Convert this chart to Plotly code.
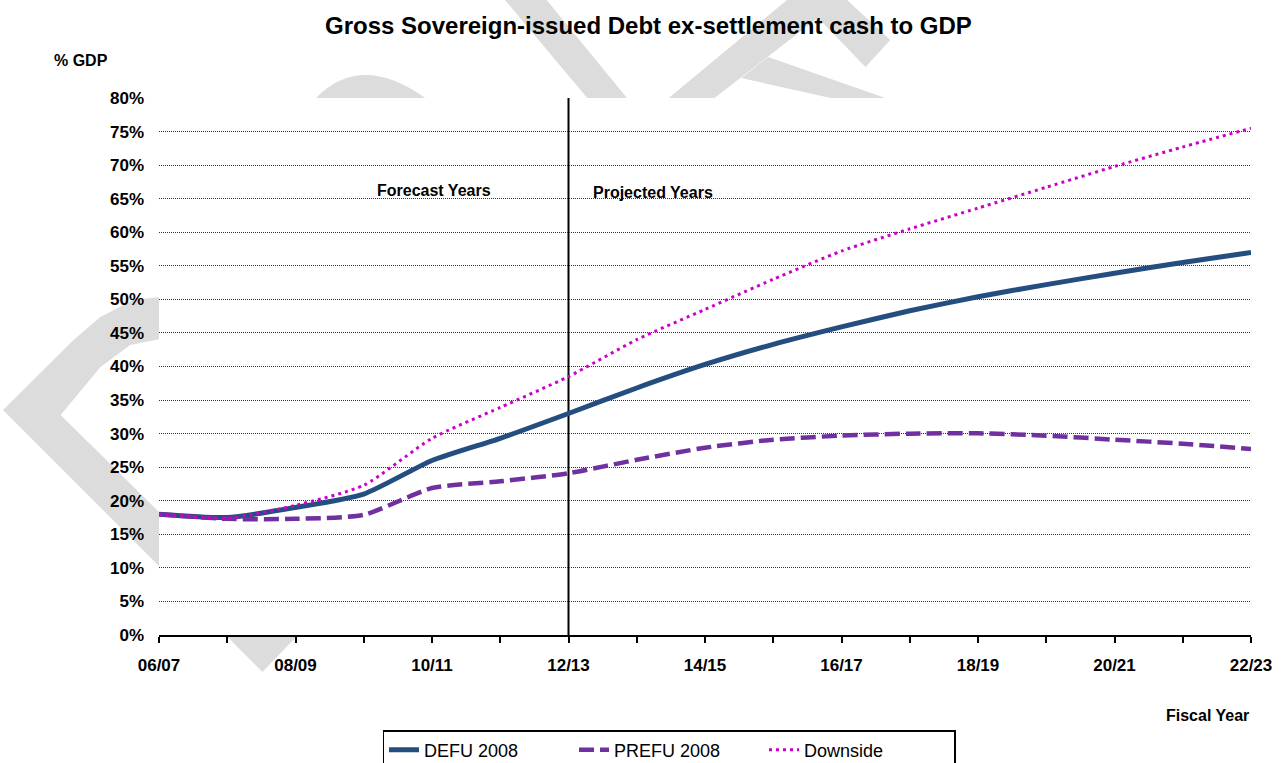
import plotly.graph_objects as go

# ---------------- data ----------------
years = ["06/07", "07/08", "08/09", "09/10", "10/11", "11/12", "12/13", "13/14", "14/15",
         "15/16", "16/17", "17/18", "18/19", "19/20", "20/21", "21/22", "22/23"]
tick_text = [y if i % 2 == 0 else "" for i, y in enumerate(years)]

defu_2008 = [18.0, 17.5, 19.0, 21.0, 26.0, 29.3, 33.0, 36.8, 40.3, 43.3, 45.9, 48.3, 50.4, 52.2, 53.9, 55.5, 57.0]
prefu_2008 = [18.0, 17.3, 17.3, 17.9, 21.9, 22.9, 24.1, 26.1, 27.9, 29.1, 29.7, 30.0, 30.05, 29.7, 29.1, 28.5, 27.7]
downside = [18.0, 17.4, 19.3, 22.3, 29.3, 33.9, 38.5, 44.0, 48.5, 53.0, 57.2, 60.5, 63.6, 66.7, 69.8, 72.7, 75.5]

series_names = ["DEFU 2008", "PREFU 2008", "Downside"]
y_ticks = list(range(0, 81, 5))
y_tick_labels = [f"{v}%" for v in y_ticks]
split_year = "12/13"

# ---------------- layout geometry ----------------
W, H = 1284, 763
L, R, T, B = 159, 26, 98, 128
PX0, PX1 = L, W - R
PY0, PY1 = T, H - B
FONT = "Liberation Sans, Arial, sans-serif"
WM = "#dcdcdc"


def px(x):
    return (x - PX0) / (PX1 - PX0)


def py(y):
    return (PY1 - y) / (PY1 - PY0)


def poly(points):
    s = "M " + " L ".join(f"{px(x):.5f},{py(y):.5f}" for x, y in points) + " Z"
    return s


fig = go.Figure()

fig.add_trace(go.Scatter(x=years, y=defu_2008, name=series_names[0], mode="lines",
                         line=dict(color="#254e80", width=5, shape="spline", smoothing=0.6)))
fig.add_trace(go.Scatter(x=years, y=prefu_2008, name=series_names[1], mode="lines",
                         line=dict(color="#7030a0", width=4.5, dash="15px,6px", shape="spline", smoothing=0.6)))
fig.add_trace(go.Scatter(x=years, y=downside, name=series_names[2], mode="lines",
                         line=dict(color="#cc00cc", width=3, dash="3px,4px", shape="spline", smoothing=0.6)))

# ---------------- watermark (decorative, behind plot area) ----------------
shapes = []
wm_polys = [
    [(160, 297), (133, 300), (100, 317), (73, 340), (2, 410), (160, 567), (160, 513), (60, 415),
     (100, 367), (130, 345), (160, 339)],
    [(228, 637), (297, 637), (263, 672)],
    [(503, -5), (545, -5), (630, 98), (590, 98)],
    [(672, 98), (718, 98), (852, -5), (797, -5)],
    [(745, 78), (772, 57), (890, 98), (835, 98)],
    [(800, -5), (846, -5), (895, 40), (870, 67)],
]
for p in wm_polys:
    shapes.append(dict(type="path", xref="paper", yref="paper", path=poly(p),
                       fillcolor=WM, line=dict(width=0), layer="below"))
# top arc
shapes.append(dict(type="path", xref="paper", yref="paper",
                   path=f"M {px(317):.5f},{py(98):.5f} Q {px(362):.5f},{py(52):.5f} {px(427):.5f},{py(98):.5f} Z",
                   fillcolor=WM, line=dict(width=0), layer="below"))
# white plot area covering the watermark
shapes.append(dict(type="rect", xref="paper", yref="paper", x0=0, x1=1, y0=0, y1=1,
                   fillcolor="white", line=dict(width=0), layer="below"))
# forecast / projection divider
split_idx = years.index(split_year)
shapes.append(dict(type="line", xref="x", yref="y", x0=split_idx, x1=split_idx, y0=0, y1=80,
                   line=dict(color="black", width=2), layer="below"))

annotations = [
    dict(text="Gross Sovereign-issued Debt ex-settlement cash to GDP", xref="paper", yref="paper",
         x=px(652), y=py(26), xanchor="center", yanchor="middle", showarrow=False,
         font=dict(family=FONT, size=24, color="black", weight="bold")),
    dict(text="% GDP", xref="paper", yref="paper", x=px(51), y=py(61), xanchor="left", yanchor="middle",
         showarrow=False, font=dict(family=FONT, size=16, color="black", weight="bold")),
    dict(text="Fiscal Year", xref="paper", yref="paper", x=px(1258), y=py(715), xanchor="right",
         yanchor="middle", showarrow=False, font=dict(family=FONT, size=16, color="black", weight="bold")),
    dict(text="Forecast Years", xref="paper", yref="paper", x=px(436), y=py(190), xanchor="center",
         yanchor="middle", showarrow=False, font=dict(family=FONT, size=16, color="black", weight="bold")),
    dict(text="Projected Years", xref="paper", yref="paper", x=px(656), y=py(192), xanchor="center",
         yanchor="middle", showarrow=False, font=dict(family=FONT, size=16, color="black", weight="bold")),
]

fig.update_layout(
    width=W, height=H,
    margin=dict(l=L, r=R, t=T, b=B, pad=0),
    paper_bgcolor="white", plot_bgcolor="white",
    shapes=shapes, annotations=annotations,
    showlegend=True,
    legend=dict(orientation="h", xref="container", yref="container", x=669 / W, y=1 - 730 / H,
                xanchor="center", yanchor="top", bordercolor="black", borderwidth=1.5,
                font=dict(family=FONT, size=18, color="black"), bgcolor="white",
                entrywidth=145, entrywidthmode="pixels"),
    xaxis=dict(type="category", range=[0, len(years) - 1], tickmode="array", tickvals=years,
               ticktext=tick_text, ticks="outside", ticklen=6, tickwidth=1.5, tickcolor="black",
               showline=True, linecolor="black", linewidth=2, showgrid=False, zeroline=False,
               tickfont=dict(family=FONT, size=17, color="black", weight="bold"),
               ticklabelstandoff=8),
    yaxis=dict(range=[0, 80], tickmode="array", tickvals=y_ticks, ticktext=y_tick_labels,
               showgrid=True, gridcolor="#333333", gridwidth=1, griddash="1px,1px",
               zeroline=False, showline=False, ticks="",
               tickfont=dict(family=FONT, size=17, color="black", weight="bold"),
               ticklabelstandoff=14),
)

fig.write_html("out.html")
